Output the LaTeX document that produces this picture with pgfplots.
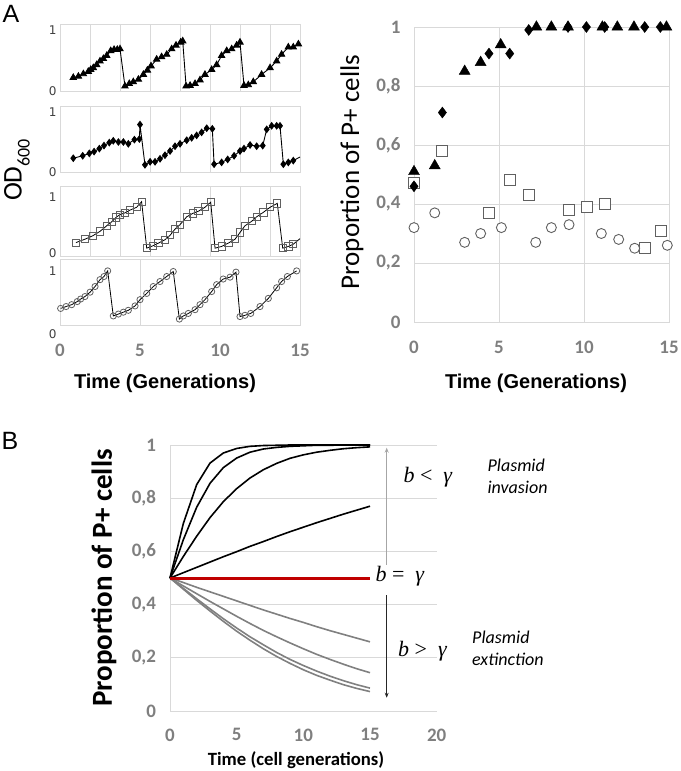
\documentclass[border=0pt]{standalone}
\usepackage{pgfplots}
\pgfplotsset{compat=1.18}
\usetikzlibrary{arrows.meta}
\usepackage{fontspec}
\setmainfont{Carlito}
\newfontfamily\arialf{Liberation Sans}
\newfontfamily\dejavu{DejaVu Sans}
\newfontfamily\serifm{Liberation Serif}
\definecolor{tickgray}{HTML}{7F7F7F}
\definecolor{gridgray}{HTML}{D9D9D9}
\definecolor{darkred}{HTML}{C00000}
\definecolor{curvegray}{HTML}{808080}
\definecolor{markgray}{HTML}{606060}
\pgfplotsset{/pgf/number format/assume math mode=true}
\begin{document}
\begin{tikzpicture}
\useasboundingbox (0,0) rectangle (680pt,-771pt);
\pgfplotsset{
  small/.style={scale only axis, width=240pt, xmin=0, xmax=15, anchor=south west,
    xtick={0,1.875,3.75,5.625,7.5,9.375,11.25,13.125,15}, xticklabels={},
    xmajorgrids, grid style={draw=gridgray, line width=0.6pt},
    axis line style={draw=gridgray, line width=0.6pt},
    major tick length=0pt, ytick={0,1},
    yticklabel style={font=\dejavu\fontsize{12}{12}\selectfont, text=black!75}},
  bigtick/.style={tick label style={font=\bfseries\fontsize{19}{19}\selectfont, text=tickgray}},
}
% ---------- Panel A, small OD panels ----------
\begin{axis}[small, at={(60pt,-91pt)}, height=67pt, ymin=0, ymax=1.1]
\addplot[black, line width=0.9pt, mark=triangle*, mark size=3.6pt] coordinates {
(0.83,0.22)(1.15,0.24)(1.46,0.28)(1.77,0.32)(1.92,0.35)(2.08,0.38)(2.29,0.43)(2.5,0.49)(2.71,0.53)(2.92,0.58)(3.17,0.66)(3.38,0.68)(3.58,0.68)(3.75,0.69)
(4.06,0.08)(4.33,0.12)(4.58,0.15)(4.9,0.19)(5.21,0.27)(5.46,0.34)(5.69,0.41)(6.04,0.52)(6.35,0.56)(6.67,0.60)(6.98,0.69)(7.25,0.75)(7.54,0.80)(7.67,0.82)
(7.88,0.08)(8.13,0.09)(8.44,0.12)(8.75,0.18)(9.06,0.27)(9.48,0.35)(9.79,0.43)(10.1,0.58)(10.42,0.66)(10.73,0.69)(11.04,0.75)(11.25,0.80)
(11.5,0.09)(11.77,0.10)(12.08,0.15)(12.6,0.27)(13.13,0.38)(13.54,0.49)(13.85,0.60)(14.27,0.72)(14.58,0.72)(14.9,0.77)};
\end{axis}
\begin{axis}[small, at={(60pt,-172pt)}, height=66pt, ymin=0, ymax=1.1]
\addplot[black, line width=0.9pt, mark=diamond*, mark size=3.2pt] coordinates {
(0.83,0.23)(1.42,0.27)(1.83,0.31)(2.13,0.34)(2.46,0.39)(2.75,0.44)(3.08,0.49)(3.33,0.52)(3.65,0.50)(3.96,0.50)(4.27,0.47)(4.65,0.54)(4.96,0.55)(5.0,0.79)
(5.31,0.12)(5.63,0.17)(5.94,0.17)(6.25,0.22)(6.56,0.28)(6.88,0.35)(7.19,0.43)(7.5,0.47)(7.92,0.53)(8.23,0.57)(8.54,0.61)(8.85,0.66)(9.17,0.73)(9.52,0.72)
(9.63,0.13)(10.1,0.16)(10.48,0.21)(10.88,0.27)(11.25,0.35)(11.5,0.39)(11.88,0.45)(12.29,0.43)(12.67,0.44)(12.92,0.71)(13.23,0.77)(13.54,0.77)(13.75,0.77)
(13.96,0.13)(14.27,0.16)(14.58,0.19)};
\addplot[black, line width=0.9pt, no marks] coordinates {(14.58,0.19)(15,0.25)};
\end{axis}
\begin{axis}[small, at={(60pt,-256pt)}, height=70pt, ymin=-0.05, ymax=1.2]
\addplot[black, line width=0.8pt, mark=square, mark size=3.6pt, mark options={draw=markgray, line width=0.8pt}] coordinates {
(1.0,0.19)(1.56,0.25)(2.04,0.31)(2.5,0.39)(2.92,0.49)(3.23,0.56)(3.5,0.64)(3.75,0.69)(4.06,0.72)(4.38,0.77)(4.79,0.82)(5.1,0.92)
(5.42,0.09)(5.79,0.13)(6.15,0.18)(6.56,0.24)(6.88,0.32)(7.19,0.43)(7.5,0.51)(7.92,0.65)(8.29,0.71)(8.65,0.75)(9.06,0.82)(9.42,0.91)
(9.69,0.09)(10.1,0.12)(10.52,0.18)(10.94,0.25)(11.25,0.37)(11.56,0.49)(11.98,0.57)(12.29,0.65)(12.71,0.73)(13.13,0.82)(13.58,0.89)
(13.92,0.09)(14.27,0.12)(14.58,0.16)};
\addplot[black, line width=0.8pt, no marks] coordinates {(14.58,0.16)(15,0.26)};
\end{axis}
\begin{axis}[small, bigtick, at={(60pt,-325pt)}, height=66pt, ymin=0.145, ymax=1.2, clip=false,
  xtick={0,5,10,15}, xticklabels={0,5,10,15}, ytick={1},
  xticklabel style={yshift=-16pt},
  yticklabel style={font=\dejavu\fontsize{12}{12}\selectfont, text=black!75}]
\addplot[black, line width=0.8pt, mark=o, mark size=3.1pt, mark options={draw=markgray, line width=0.8pt}] coordinates {
(0.04,0.41)(0.38,0.44)(0.73,0.47)(1.08,0.52)(1.29,0.56)(1.56,0.60)(1.88,0.67)(2.19,0.76)(2.5,0.87)(2.75,0.92)(2.98,1.01)
(3.33,0.29)(3.65,0.32)(3.96,0.35)(4.27,0.38)(4.69,0.45)(5.0,0.55)(5.42,0.65)(5.83,0.76)(6.25,0.84)(6.67,0.92)(7.08,1.0)
(7.46,0.24)(7.71,0.29)(8.02,0.33)(8.44,0.39)(8.75,0.47)(9.06,0.55)(9.48,0.68)(9.79,0.79)(10.2,0.88)(10.63,0.91)(11.0,0.99)
(11.25,0.28)(11.56,0.30)(11.92,0.33)(12.5,0.44)(13.02,0.57)(13.54,0.74)(13.85,0.84)(14.21,0.92)(14.79,1.01)};
\node[anchor=east, font=\dejavu\fontsize{12}{12}\selectfont, text=black!75] at (axis cs:0,0) {0};
\end{axis}
% ---------- Panel A, right ----------
\begin{axis}[scale only axis, bigtick, at={(414pt,-322pt)}, anchor=south west, width=255pt, height=295pt,
  xmin=0, xmax=15, ymin=0, ymax=1, xtick={0,5,10,15}, xticklabels={0,5,10,15},
  ytick={0,0.2,0.4,0.6,0.8,1}, yticklabels={0,{0,2},{0,4},{0,6},{0,8},1},
  grid=major, grid style={draw=gridgray, line width=0.6pt}, axis line style={draw=gridgray, line width=0.6pt},
  major tick length=0pt, xticklabel style={yshift=-16pt}, yticklabel style={xshift=-10pt}, clip=false]
\addplot[only marks, mark=square*, mark size=5.5pt, mark options={draw=markgray, fill=white, line width=0.9pt}] coordinates {
(0,0.47)(1.67,0.58)(4.41,0.37)(5.63,0.48)(6.77,0.43)(9.12,0.38)(10.2,0.39)(11.22,0.40)(13.57,0.25)(14.55,0.31)};
\addplot[only marks, mark=*, mark size=5pt, mark options={draw=markgray, fill=white, line width=0.9pt}] coordinates {
(0,0.32)(1.22,0.37)(2.98,0.27)(3.92,0.30)(5.14,0.32)(7.16,0.27)(8.08,0.32)(9.12,0.33)(11.02,0.30)(12.04,0.28)(12.98,0.25)(14.9,0.26)};
\addplot[only marks, mark=triangle*, mark size=6.3pt, mark options={fill=black, draw=black}] coordinates {
(0,0.51)(1.22,0.53)(2.98,0.85)(3.92,0.88)(5.1,0.94)(7.2,1.0)(8.08,1.0)(9.06,1.0)(11.08,1.0)(11.96,1.0)(12.94,1.0)(14.85,1.0)};
\addplot[only marks, mark=diamond*, mark size=5.5pt, mark options={fill=black, draw=black}] coordinates {
(0,0.46)(1.67,0.71)(4.41,0.91)(5.63,0.91)(6.75,0.99)(9.06,1.0)(10.14,1.0)(11.22,1.0)(13.57,1.0)(14.49,1.0)};
\end{axis}
% ---------- Panel B ----------
\begin{axis}[scale only axis, bigtick, at={(170pt,-711pt)}, anchor=south west, width=266.7pt, height=266pt,
  xmin=0, xmax=20, ymin=0, ymax=1, xtick={0,5,10,15,20}, xticklabels={0,5,10,15,20},
  ytick={0,0.2,0.4,0.6,0.8,1}, yticklabels={0,{0,2},{0,4},{0,6},{0,8},1},
  ymajorgrids, grid style={draw=gridgray, line width=0.8pt},
  axis x line*=bottom, axis y line*=left, axis line style={draw=gridgray, line width=0.8pt, -},
  major tick length=0pt, xticklabel style={yshift=-14pt}, yticklabel style={xshift=-10.5pt}, clip=false]
\addplot[curvegray, line width=1.6pt] coordinates {(0,0.5)(1,0.483)(2,0.465)(3,0.448)(4,0.431)(5,0.414)(6,0.397)(7,0.380)(8,0.364)(9,0.348)(10,0.333)(11,0.317)(12,0.302)(13,0.288)(14,0.274)(15,0.260)};
\addplot[curvegray, line width=1.6pt] coordinates {(0,0.5)(1,0.470)(2,0.441)(3,0.412)(4,0.384)(5,0.356)(6,0.329)(7,0.303)(8,0.279)(9,0.256)(10,0.234)(11,0.213)(12,0.194)(13,0.176)(14,0.159)(15,0.144)};
\addplot[curvegray, line width=1.6pt] coordinates {(0,0.5)(1,0.461)(2,0.422)(3,0.384)(4,0.347)(5,0.312)(6,0.279)(7,0.249)(8,0.220)(9,0.194)(10,0.171)(11,0.150)(12,0.131)(13,0.114)(14,0.099)(15,0.086)};
\addplot[curvegray, line width=1.6pt] coordinates {(0,0.5)(1,0.458)(2,0.416)(3,0.376)(4,0.337)(5,0.300)(6,0.266)(7,0.234)(8,0.205)(9,0.179)(10,0.155)(11,0.134)(12,0.116)(13,0.099)(14,0.085)(15,0.073)};
\addplot[black, line width=1.6pt] coordinates {(0,0.5)(1,0.705)(2,0.851)(3,0.932)(4,0.970)(5,0.987)(6,0.995)(7,0.998)(8,0.999)(9,1)(10,1)(11,1)(12,1)(13,1)(14,1)(15,1)};
\addplot[black, line width=1.6pt] coordinates {(0,0.5)(1,0.644)(2,0.766)(3,0.856)(4,0.915)(5,0.951)(6,0.973)(7,0.985)(8,0.991)(9,0.995)(10,0.997)(11,0.999)(12,0.999)(13,1)(14,1)(15,1)};
\addplot[black, line width=1.6pt] coordinates {(0,0.5)(1,0.581)(2,0.657)(3,0.727)(4,0.787)(5,0.836)(6,0.876)(7,0.907)(8,0.931)(9,0.950)(10,0.963)(11,0.973)(12,0.980)(13,0.986)(14,0.990)(15,0.993)};
\addplot[black, line width=1.6pt] coordinates {(0,0.5)(1,0.520)(2,0.540)(3,0.560)(4,0.580)(5,0.599)(6,0.619)(7,0.637)(8,0.656)(9,0.674)(10,0.691)(11,0.708)(12,0.724)(13,0.740)(14,0.755)(15,0.770)};
\addplot[darkred, line width=3pt] coordinates {(0,0.5)(15,0.5)};
\draw[black!35, line width=0.9pt, -{Stealth[length=5pt,width=4pt]}] (axis cs:16.25,0.55) -- (axis cs:16.25,0.99);
\draw[black!85, line width=0.7pt, -{Stealth[length=5pt,width=4pt]}] (axis cs:16.25,0.435) -- (axis cs:16.25,0.05);
\node[anchor=west, inner sep=0pt, font=\serifm\fontsize{22}{22}\selectfont] at (axis cs:15.4,0.505) {\textit{b} = \ \textit{γ}};
\node[anchor=west, inner sep=0pt, font=\serifm\fontsize{22}{22}\selectfont] at (axis cs:17.5,0.88) {\textit{b} < \ \textit{γ}};
\node[anchor=west, inner sep=0pt, font=\serifm\fontsize{22}{22}\selectfont] at (axis cs:17.1,0.225) {\textit{b} > \ \textit{γ}};
\node[anchor=west, inner sep=0pt, align=left, font=\itshape\fontsize{18}{22}\selectfont] at (axis cs:23.8,0.883) {Plasmid\\invasion};
\node[anchor=west, inner sep=0pt, align=left, font=\itshape\fontsize{18}{22}\selectfont] at (axis cs:22.65,0.235) {Plasmid\\extinction};
\end{axis}
% ---------- titles and labels ----------
\node[font=\arialf\fontsize{25}{25}\selectfont] at (11pt,-14pt) {A};
\node[font=\arialf\fontsize{25}{25}\selectfont] at (10pt,-441pt) {B};
\node[rotate=90, font=\fontsize{27}{27}\selectfont] at (17pt,-170pt) {OD\raisebox{-0.3em}{\fontsize{18}{18}\selectfont 600}};
\node[font=\arialf\bfseries\fontsize{20}{20}\selectfont] at (165pt,-383pt) {Time (Generations)};
\node[font=\arialf\bfseries\fontsize{20}{20}\selectfont] at (536pt,-383pt) {Time (Generations)};
\node[rotate=90, font=\fontsize{27}{27}\selectfont] at (352pt,-172pt) {Proportion of P+ cells};
\node[rotate=90, font=\bfseries\fontsize{29}{29}\selectfont] at (104pt,-578pt) {Proportion of P+ cells};
\node[font=\bfseries\fontsize{18.7}{19}\selectfont] at (296pt,-760pt) {Time (cell generations)};
\end{tikzpicture}
\end{document}
